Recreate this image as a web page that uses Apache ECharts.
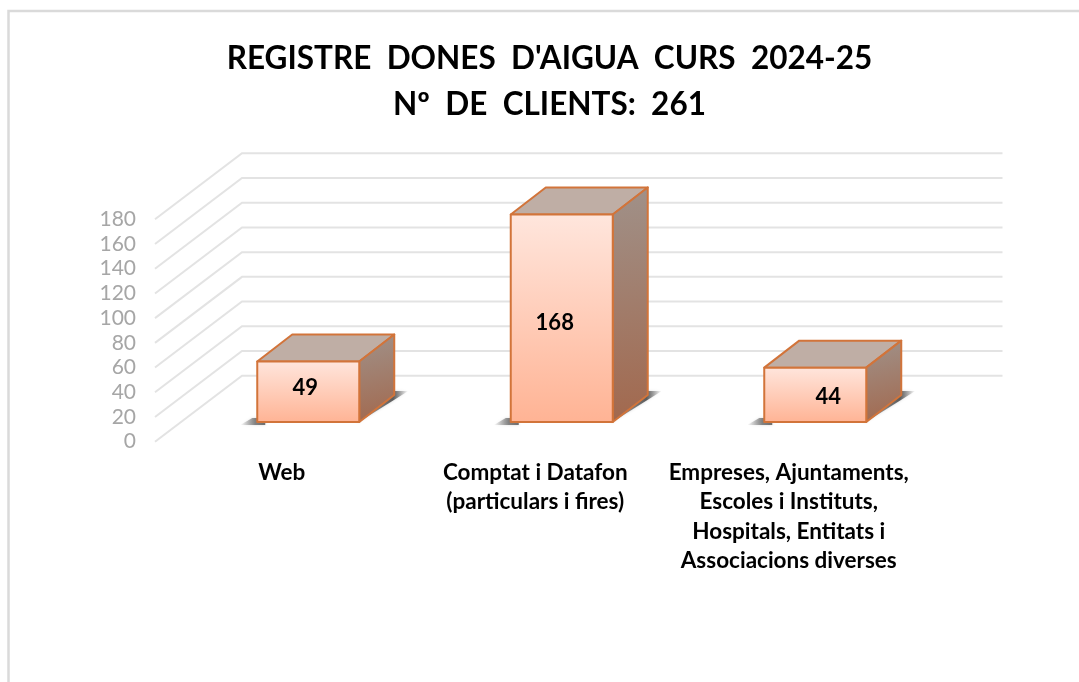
<!DOCTYPE html>
<html>
<head>
<meta charset="utf-8">
<style>
  html, body { margin: 0; padding: 0; background: #fff; }
  #chart { width: 1079px; height: 682px; }
</style>
<script src="https://cdn.jsdelivr.net/npm/echarts@6/dist/echarts.min.js"></script>
</head>
<body>
<div id="chart"></div>
<script>
const categories = [
  'Web',
  'Comptat i Datafon\n(particulars i fires)',
  'Empreses, Ajuntaments,\nEscoles i Instituts,\nHospitals, Entitats i\nAssociacions diverses'
]
const clients = [49, 168, 44]
const yTicks = [0, 20, 40, 60, 80, 100, 120, 140, 160, 180]

// fake 3D: floor depth in px, bars stand part way in and are shallower than the wall
const WALL_DX = 87, WALL_DY = 66
const BAR_IN_DX = 26.5, BAR_IN_DY = 19.7
const BAR_DX = 35, BAR_DY = 27
const BAR_W = 102
// the value labels are not centred on the bars in the original
const labelNudge = [[-3, -4], [-7, 5], [13, 2]]

const pts = (...p) => ({ points: p })
const leftShadow = () => new echarts.graphic.LinearGradient(0, 0, 1, 0, [
  { offset: 0, color: 'rgba(90,90,90,0)' },
  { offset: 0.6, color: 'rgba(90,90,90,0.7)' },
  { offset: 1, color: 'rgba(80,80,80,0.8)' }
])
const sideShadow = () => new echarts.graphic.LinearGradient(1, 0, 0, 0, [
  { offset: 0, color: 'rgba(80,80,80,0)' },
  { offset: 0.3, color: 'rgba(70,70,70,0.85)' },
  { offset: 1, color: 'rgba(110,110,110,0.55)' }
])

const renderWall = (params, api) => {
  const y = api.coord([0, api.value(0)])[1]
  const x0 = params.coordSys.x
  const x1 = x0 + params.coordSys.width + WALL_DX
  return {
    type: 'polyline',
    shape: pts([x0, y], [x0 + WALL_DX, y - WALL_DY], [x1, y - WALL_DY]),
    style: { fill: 'none', stroke: '#e3e3e3', lineWidth: 2 },
    silent: true
  }
}

const renderBar = (params, api) => {
  const i = api.value(0)
  const val = api.value(1)
  const top = api.coord([i, val])
  const base = api.coord([i, 0])
  const l = base[0] + BAR_IN_DX - BAR_W / 2
  const r = l + BAR_W
  const b = base[1] - BAR_IN_DY
  const t = top[1] - BAR_IN_DY
  const edge = { stroke: '#d2743a', lineWidth: 2, lineJoin: 'round' }
  const nudge = labelNudge[i]
  const blur = { shadowBlur: 3, shadowColor: 'rgba(110,110,110,0.35)' }
  return {
    type: 'group',
    children: [
      // soft shadow on the floor, left of the front face and along the side
      {
        type: 'polygon',
        shape: pts([l - 17, b + 3], [l + 8, b + 3], [l + 8, b - 4], [l - 5, b - 4]),
        style: { fill: leftShadow(), ...blur }
      },
      {
        type: 'polygon',
        shape: pts([r - 2, b + 1], [r + BAR_DX + 14, b - BAR_DY - 4], [r + BAR_DX - 4, b - BAR_DY - 4], [r - 2, b - 6]),
        style: { fill: sideShadow(), ...blur }
      },
      // top face
      {
        type: 'polygon',
        shape: pts([l, t], [r, t], [r + BAR_DX, t - BAR_DY], [l + BAR_DX, t - BAR_DY]),
        style: { fill: '#bfaea5', ...edge }
      },
      // side face
      {
        type: 'polygon',
        shape: pts([r, t], [r + BAR_DX, t - BAR_DY], [r + BAR_DX, b - BAR_DY], [r, b]),
        style: {
          fill: new echarts.graphic.LinearGradient(0.2, 0, 0.8, 1, [
            { offset: 0, color: '#a09189' },
            { offset: 1, color: '#a2684d' }
          ]),
          ...edge
        }
      },
      // front face
      {
        type: 'rect',
        shape: { x: l, y: t, width: BAR_W, height: b - t },
        style: {
          fill: new echarts.graphic.LinearGradient(0, 0, 0, 1, [
            { offset: 0, color: '#ffe6dd' },
            { offset: 1, color: '#ffb394' }
          ]),
          ...edge
        }
      },
      {
        type: 'text',
        style: {
          x: (l + r) / 2 + nudge[0],
          y: (t + b) / 2 + nudge[1],
          text: String(val),
          align: 'center',
          verticalAlign: 'middle',
          fill: '#000',
          font: 'bold 22px Lato'
        }
      }
    ]
  }
}

const chart = echarts.init(document.getElementById('chart'), null, { renderer: 'canvas' })
chart.setOption({
  animation: false,
  backgroundColor: '#fff',
  title: {
    text: "REGISTRE  DONES  D'AIGUA  CURS  2024-25\nNº  DE  CLIENTS:  261",
    left: 544.5,
    top: 31,
    textAlign: 'center',
    textStyle: { fontFamily: 'Lato', fontWeight: 'bold', fontSize: 31.5, lineHeight: 46, color: '#000' }
  },
  graphic: [{
    type: 'polyline',
    silent: true,
    shape: pts([8.5, 682], [8.5, 11], [1079, 11]),
    style: { fill: 'none', stroke: '#dadada', lineWidth: 2.5 }
  }],
  grid: { left: 155, top: 219.3, width: 760.5, height: 222.4 },
  xAxis: {
    type: 'category',
    data: categories,
    axisLine: { show: false },
    axisTick: { show: false },
    axisLabel: {
      margin: 16,
      interval: 0,
      fontFamily: 'Lato',
      fontWeight: 'bold',
      fontSize: 22.5,
      lineHeight: 29.5,
      color: '#000'
    }
  },
  yAxis: {
    type: 'value',
    min: 0,
    max: 180,
    interval: 20,
    axisLine: { show: false },
    axisTick: { show: false },
    splitLine: { show: false },
    axisLabel: { margin: 19, fontFamily: 'Lato', fontSize: 21, color: '#a6a6a6' }
  },
  series: [
    {
      type: 'custom',
      name: 'walls',
      renderItem: renderWall,
      encode: { y: 0 },
      data: yTicks.map(v => [v]),
      z: 1,
      silent: true
    },
    {
      type: 'custom',
      name: 'clients',
      renderItem: renderBar,
      encode: { x: 0, y: 1 },
      data: clients.map((v, i) => [i, v]),
      z: 2,
      silent: true
    }
  ]
})
</script>
</body>
</html>
